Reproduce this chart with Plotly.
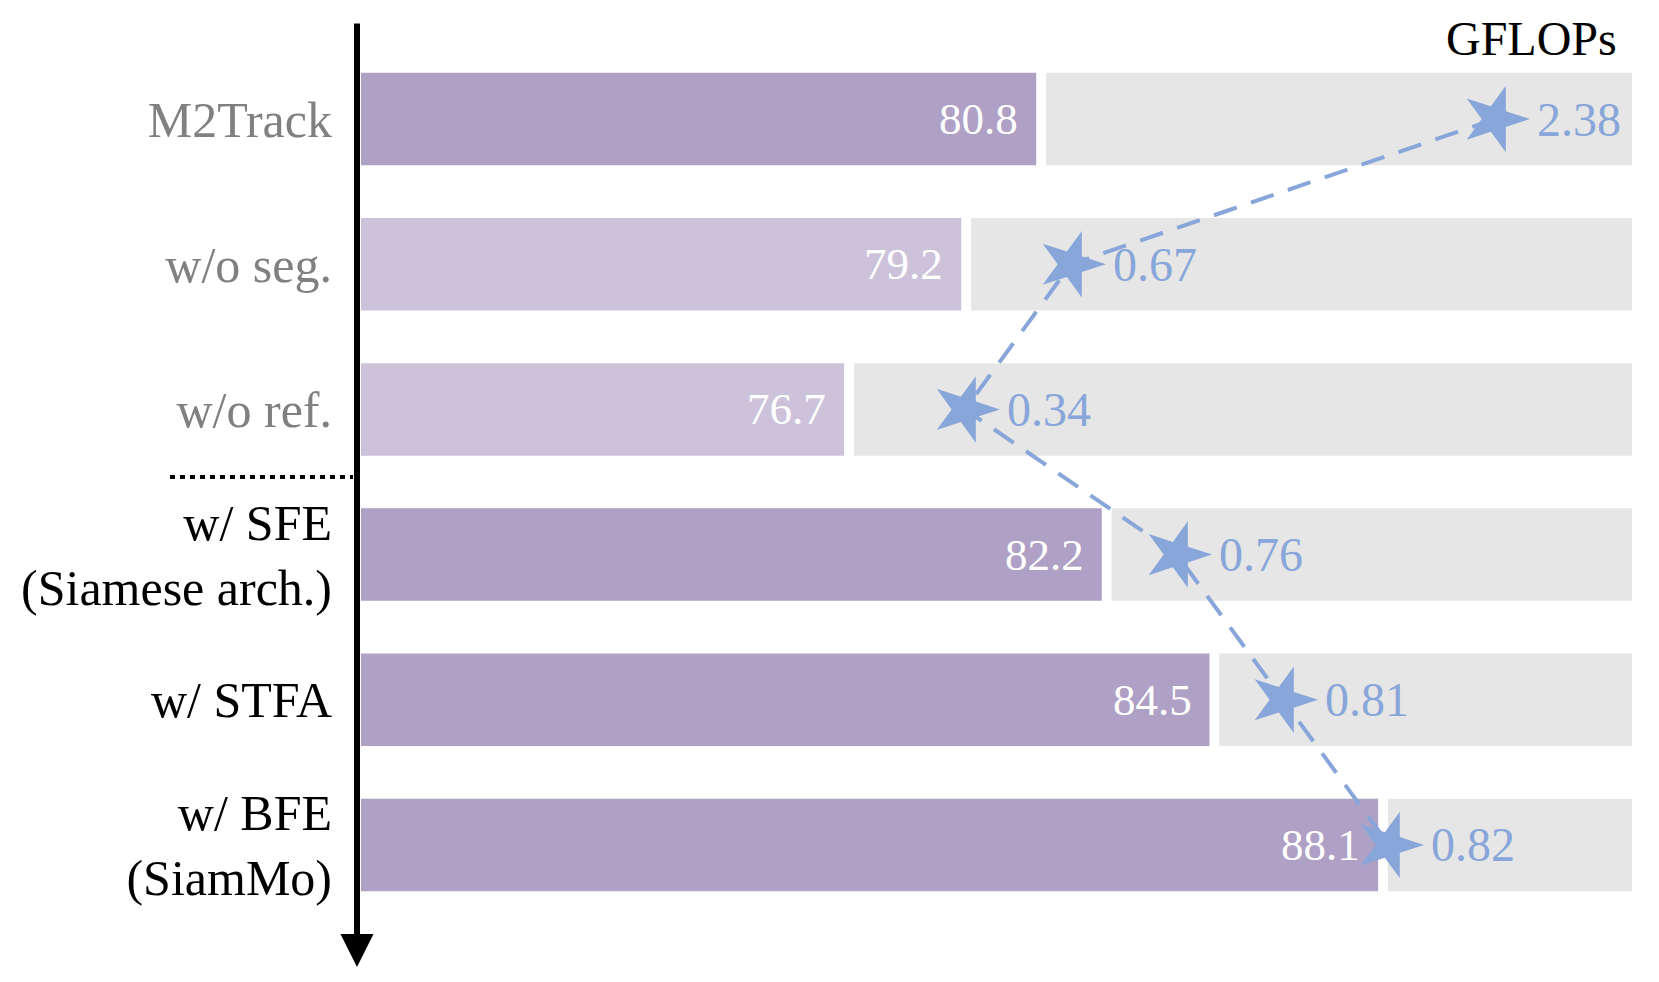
import plotly.graph_objects as go

# données
variants = ["M2Track", "w/o seg.", "w/o ref.", "w/ SFE", "w/ STFA", "w/ BFE"]
tick_lines = ["M2Track", "w/o seg.", "w/o ref.", "w/ SFE<br>(Siamese arch.)",
              "w/ STFA", "w/ BFE<br>(SiamMo)"]
success = [80.8, 79.2, 76.7, 82.2, 84.5, 88.1]
gflops = [2.38, 0.67, 0.34, 0.76, 0.81, 0.82]
is_baseline = [True, False, False, False, False, False]
is_ablation = [False, True, True, False, False, False]

# couleurs / styles
PURPLE = "#AFA0C5"
PURPLE_LIGHT = "#CCC3DB"
GREY_BG = "#E6E6E6"
BLUE = "#88A6D9"
FONT = "Liberation Serif"

x_min, x_max = 66.385, 93.52
gap = 0.21

bar_colors = [PURPLE_LIGHT if a else PURPLE for a in is_ablation]
grey_base = [v + gap for v in success]
grey_len = [x_max - b for b in grey_base]

gf_str = [f"{g:.2f}" for g in gflops]
gf_order = [f"{g:.2f}" for g in sorted(gflops)]

ticktext = []
for lab, b, a in zip(tick_lines, is_baseline, is_ablation):
    col = "#808080" if (a or b) else "#000000"
    ticktext.append(f'<span style="color:{col}">{lab}</span>')

fig = go.Figure()

fig.add_trace(go.Bar(
    x=success, y=variants, orientation="h",
    marker=dict(color=bar_colors, line=dict(width=0)),
    hoverinfo="skip"
))
fig.add_trace(go.Bar(
    x=grey_len, y=variants, base=grey_base, orientation="h",
    marker=dict(color=GREY_BG, line=dict(width=0)),
    hoverinfo="skip"
))

# GFLOPs : étoiles + pointillés (axe ordinal, trié)
fig.add_trace(go.Scatter(
    x=gf_str, y=variants, xaxis="x2", yaxis="y",
    mode="lines+markers",
    line=dict(color=BLUE, width=4, dash="24px,15px"),
    marker=dict(symbol="star", angle=90, size=50, color=BLUE,
                line=dict(width=0)),
    hoverinfo="skip"
))

annotations = []
for v, cat in zip(success, variants):
    annotations.append(dict(
        x=v, y=cat, xref="x", yref="y", text=f"{v:.1f}",
        showarrow=False, xanchor="right", yanchor="middle", xshift=-16,
        font=dict(family=FONT, size=45, color="white")
    ))
for g, cat in zip(gf_str, variants):
    annotations.append(dict(
        x=gf_order.index(g), y=cat, xref="x2", yref="y", text=g,
        showarrow=False, xanchor="left", yanchor="middle", xshift=40,
        font=dict(family=FONT, size=48, color=BLUE)
    ))

annotations.append(dict(
    x=0.9898, y=1.0063, xref="paper", yref="paper", text="GFLOPs",
    showarrow=False, xanchor="right", yanchor="middle",
    font=dict(family=FONT, size=48, color="black")
))

# axe vertical avec flèche
annotations.append(dict(
    x=-0.00315, y=-0.0537, xref="paper", yref="paper", text="",
    showarrow=True, ax=0, ay=-945, axref="pixel", ayref="pixel",
    arrowhead=2, arrowsize=1.1, arrowwidth=6, arrowcolor="black",
    standoff=0
))

# la page html ajoute 8 px de marge autour du graphique
fig.update_layout(
    width=1651, height=974,
    margin=dict(l=353, r=27, t=36, b=62),
    paper_bgcolor="white", plot_bgcolor="white",
    showlegend=False,
    barmode="overlay", bargap=0.363,
    xaxis=dict(range=[x_min, x_max], visible=False, fixedrange=True),
    xaxis2=dict(overlaying="x", type="category", categoryorder="array",
                categoryarray=gf_order, range=[-5.6981, 6.2925],
                visible=False),
    yaxis=dict(type="category", categoryorder="array", categoryarray=variants,
               autorange="reversed", tickvals=variants, ticktext=ticktext,
               ticks="", ticklabelstandoff=28, showgrid=False, zeroline=False,
               showline=False,
               tickfont=dict(family=FONT, size=50, color="black")),
    annotations=annotations,
    shapes=[dict(type="line", xref="paper", yref="paper",
                 x0=-0.1503, x1=-0.0063, y0=0.5058, y1=0.5058,
                 line=dict(color="black", width=4, dash="5px,5px"))]
)

fig.write_html("out.html")
